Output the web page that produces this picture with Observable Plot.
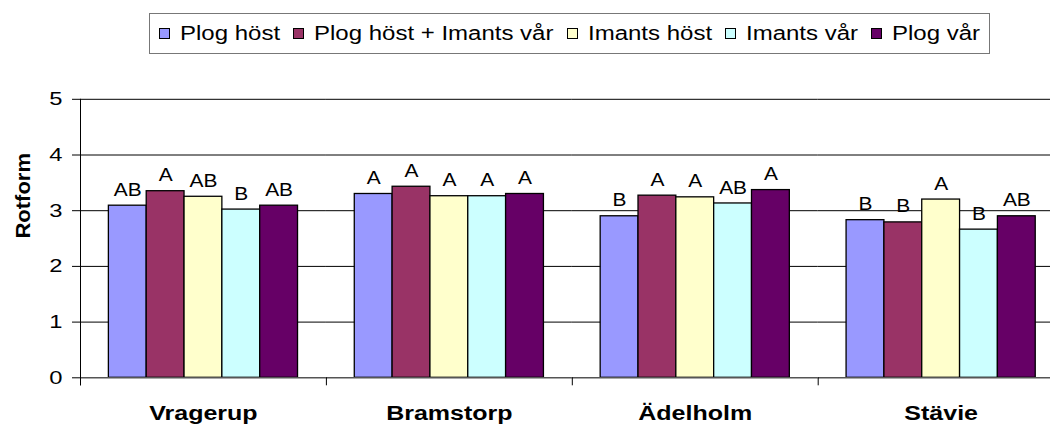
<!DOCTYPE html>
<html>
<head>
<meta charset="utf-8">
<script src="https://cdn.jsdelivr.net/npm/d3@7"></script>
<script src="https://cdn.jsdelivr.net/npm/@observablehq/plot@0.6"></script>
<style>
  html, body { margin: 0; padding: 0; background: #fff; }
  body { width: 1050px; height: 425px; overflow: hidden; font-family: "Liberation Sans", Arial, sans-serif; }
  #legend { position: relative; height: 60px; }
  #lbox { position: absolute; left: 149px; top: 13px; height: 41px; box-sizing: border-box;
          border: 1px solid #777; display: flex; align-items: center; padding: 0 9px 0 9px; font-size: 20px; color: #000; background: #fff; }
  .item { display: flex; align-items: center; margin-right: 13px; }
  .item:last-child { margin-right: 0; }
  .sw { width: 11px; height: 11px; box-sizing: border-box; border: 1px solid #000; margin-right: 10px; }
  .lab { display: inline-block; white-space: nowrap; }
  .in { display: inline-block; white-space: nowrap; transform-origin: 0 50%; }
  #chart svg { display: block; }
</style>
</head>
<body>
<div id="legend"><div id="lbox"></div></div>
<div id="chart"></div>
<script>
// ---- data ----
const sites = ["Vragerup", "Bramstorp", "Ädelholm", "Stävie"];
const treatments = ["Plog höst", "Plog höst + Imants vår", "Imants höst", "Imants vår", "Plog vår"];
const colors = ["#9999ff", "#993366", "#ffffcc", "#ccffff", "#660066"];
const yTicks = [0, 1, 2, 3, 4, 5];
const yLabel = "Rotform";

const vragerup  = [3.09, 3.35, 3.25, 3.02, 3.09];
const bramstorp = [3.30, 3.43, 3.26, 3.26, 3.30];
const adelholm  = [2.90, 3.27, 3.24, 3.13, 3.37];
const stavie    = [2.83, 2.79, 3.20, 2.66, 2.90];

const lettersVragerup  = ["AB", "A", "AB", "B", "AB"];
const lettersBramstorp = ["A", "A", "A", "A", "A"];
const lettersAdelholm  = ["B", "A", "A", "AB", "A"];
const lettersStavie    = ["B", "B", "A", "B", "AB"];

const values = [vragerup, bramstorp, adelholm, stavie];
const letters = [lettersVragerup, lettersBramstorp, lettersAdelholm, lettersStavie];
const data = sites.flatMap((s, i) => treatments.map((t, j) => ({
  site: s, treatment: t, value: values[i][j], letter: letters[i][j]
})));

// ---- legend ----
const lbox = document.getElementById("lbox");
treatments.forEach((t, i) => {
  const item = document.createElement("div");
  item.className = "item";
  const sw = document.createElement("div");
  sw.className = "sw";
  sw.style.background = colors[i];
  const lab = document.createElement("span");
  lab.className = "lab";
  const inn = document.createElement("span");
  inn.className = "in";
  inn.textContent = t;
  lab.append(inn);
  item.append(sw, lab);
  lbox.append(item);
});
const KL = 1.2;
lbox.querySelectorAll(".lab").forEach(lab => {
  const inn = lab.firstChild;
  const w = inn.getBoundingClientRect().width;
  lab.style.width = (w * KL) + "px";
  inn.style.transform = `scaleX(${KL})`;
});

// ---- chart ----
const H = 365, mTop = 38.8, mBottom = 47.7;
const chart = Plot.plot({
  width: 1050,
  height: H,
  marginLeft: 80,
  marginRight: -13.6,
  marginTop: mTop,
  marginBottom: mBottom,
  style: { fontFamily: "'Liberation Sans', Arial, sans-serif", fontSize: "19px", color: "#000", background: "#fff", overflow: "visible" },
  fx: { domain: sites, padding: 0, round: false, label: null },
  x: { domain: treatments, paddingInner: 0, paddingOuter: 0.75, round: false, axis: null },
  y: { domain: [0, 5], label: null },
  color: { domain: treatments, range: colors },
  marks: [
    Plot.ruleY(yTicks.filter(d => d > 0), { stroke: "#000", strokeWidth: 1 }),
    Plot.barY(data, { fx: "site", x: "treatment", y: "value", fill: "treatment", stroke: "#000", strokeWidth: 1.3 }),
    Plot.ruleY([0], { stroke: "#555", strokeWidth: 1.6 }),
    Plot.text(data, { fx: "site", x: "treatment", y: "value", text: "letter", dy: -16, fontSize: 19, fill: "#000" }),
    Plot.frame({ anchor: "left", insetTop: H - mTop - mBottom, insetBottom: -7, stroke: "#000" }),
    Plot.frame({ anchor: "left", facetAnchor: "left", insetBottom: -7, stroke: "#000" }),
    Plot.axisY(yTicks, { anchor: "left", tickSize: 8, tickPadding: 10, fontSize: 19,
      tickFormat: d => String(d), label: null }),
    Plot.text([yLabel], { frameAnchor: "left", facetAnchor: "left", rotate: -90, dx: -57,
      fontSize: 20, fontWeight: "bold", fill: "#000", ariaLabel: "ylabel" }),
    Plot.axisFx({ anchor: "bottom", tickSize: 0, tickPadding: 28, fontSize: 20, fontWeight: "bold", label: null })
  ]
});
document.getElementById("chart").append(chart);

function stretch(sel, k) {
  chart.querySelectorAll(sel).forEach(t => {
    const w = t.getComputedTextLength();
    if (w > 0) {
      t.setAttribute("textLength", (w * k).toFixed(2));
      t.setAttribute("lengthAdjust", "spacingAndGlyphs");
    }
  });
}
stretch('g[aria-label="y-axis tick label"] text', 1.25);
stretch('g[aria-label="fx-axis tick label"] text', 1.25);
stretch('g[aria-label="text"] text', 1.1);
</script>
</body>
</html>
